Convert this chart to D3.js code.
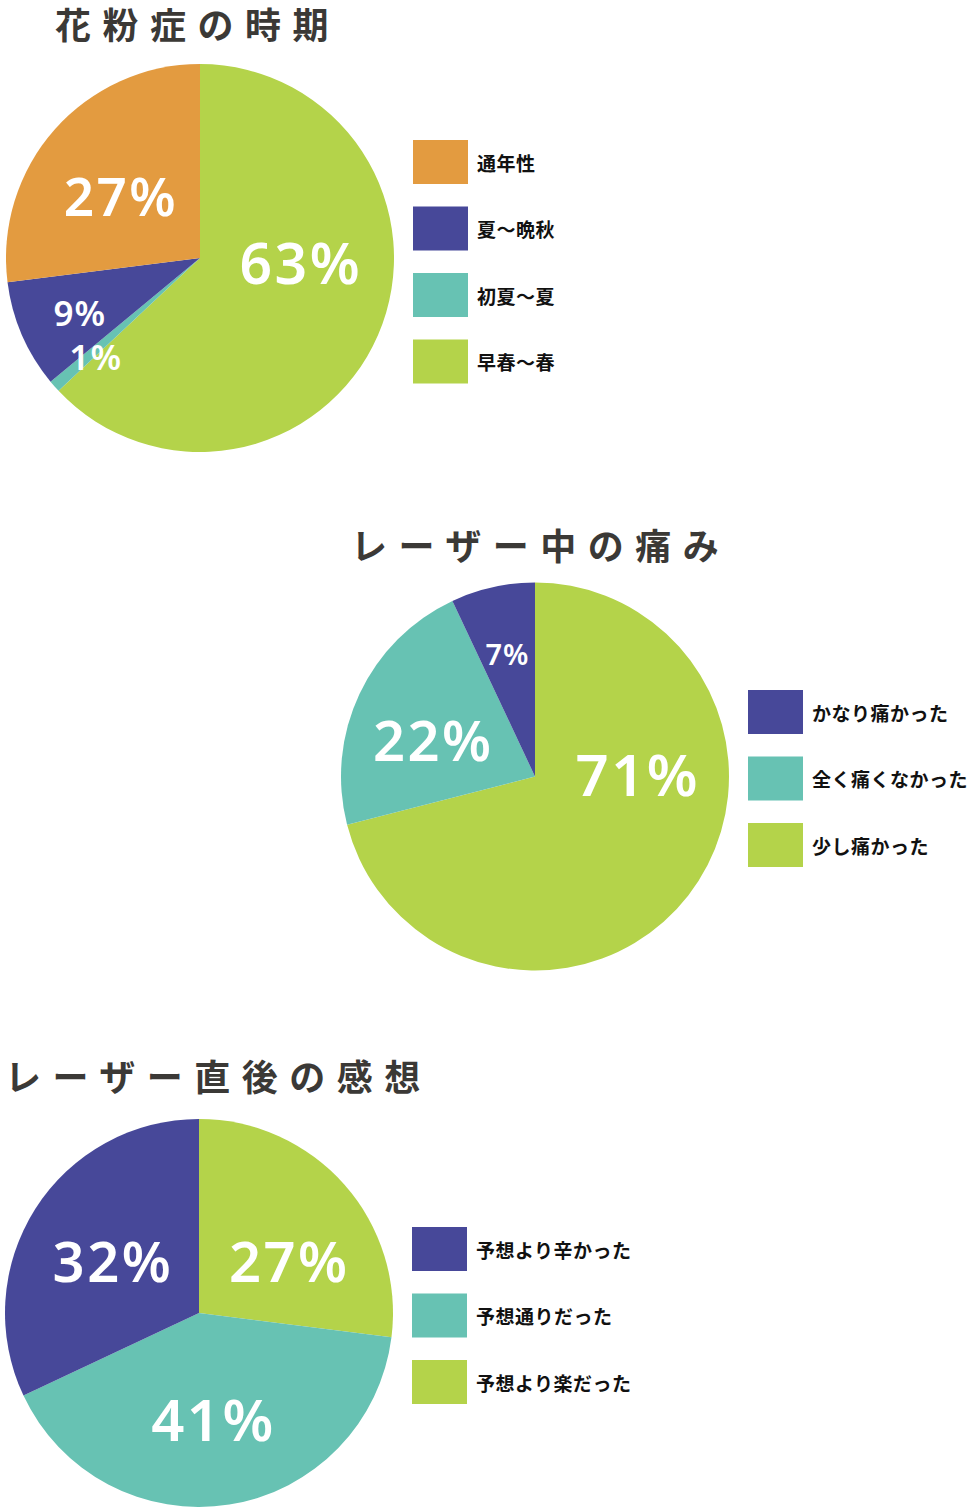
<!DOCTYPE html>
<html>
<head>
<meta charset="utf-8">
<script src="https://cdn.jsdelivr.net/npm/d3@7"></script>
<style>
  body { margin: 0; background: #fff; }
  svg { display: block; }
</style>
</head>
<body>
<script>
// data
var seasonTitle = "花粉症の時期";
var seasonLabels = ["早春〜春", "初夏〜夏", "夏〜晩秋", "通年性"];
var seasonValues = [63, 1, 9, 27];

var painTitle = "レーザー中の痛み";
var painLabels = ["少し痛かった", "全く痛くなかった", "かなり痛かった"];
var painValues = [71, 22, 7];

var afterTitle = "レーザー直後の感想";
var afterLabels = ["予想より楽だった", "予想通りだった", "予想より辛かった"];
var afterValues = [27, 41, 32];

// colours
var orange = "#E39B40", purple = "#474899", teal = "#67C2B3", green = "#B4D34A";

var width = 969, height = 1507;
var svg = d3.select("body").append("svg").attr("width", width).attr("height", height);

function drawPie(title, labels, values, colors, lay){
    var g = svg.append("g");

    // titel
    g.append("text")
        .attr("x", lay.titleX).attr("y", lay.titleY)
        .attr("dominant-baseline", "central")
        .style("font-family", "'Noto Sans CJK JP', sans-serif")
        .style("font-weight", 700)
        .style("font-size", "36px")
        .style("letter-spacing", "11.5px")
        .style("fill", "#3b3936")
        .text(title);

    var pie = d3.pie().sort(null).value(function(d){ return d; });
    var arcs = pie(values);
    var arc = d3.arc().innerRadius(0).outerRadius(lay.r);

    var pg = g.append("g").attr("transform", "translate(" + lay.cx + "," + lay.cy + ")");
    pg.selectAll("path").data(arcs).enter().append("path")
        .attr("d", arc)
        .attr("fill", function(d, i){ return colors[i]; });

    // procent-etiketter
    pg.selectAll("text").data(arcs).enter().append("text")
        .attr("transform", function(d, i){
            var a = (d.startAngle + d.endAngle) / 2 + lay.turn[i] * Math.PI / 180;
            var rr = lay.frac[i] * lay.r;
            var c = d3.arc().innerRadius(rr).outerRadius(rr).startAngle(a).endAngle(a).centroid();
            return "translate(" + c[0] + "," + c[1] + ")";
        })
        .attr("text-anchor", "middle")
        .attr("dominant-baseline", "central")
        .style("font-family", "'Noto Sans', sans-serif")
        .style("font-weight", 600)
        .style("font-size", function(d, i){ return lay.size[i] + "px"; })
        .style("letter-spacing", function(d, i){ return (lay.size[i] > 40 ? 2.5 : 1) + "px"; })
        .style("fill", "#fff")
        .text(function(d){ return d.value + "%"; });

    // legend (omvänd ordning)
    var order = d3.range(values.length).reverse();
    var lg = g.append("g").attr("transform", "translate(" + lay.legX + "," + lay.legY + ")");
    var items = lg.selectAll("g").data(order).enter().append("g")
        .attr("transform", function(d, k){ return "translate(0," + (k * 66.5) + ")"; });
    items.append("rect")
        .attr("width", 55).attr("height", 44)
        .attr("fill", function(d){ return colors[d]; });
    items.append("text")
        .attr("x", 64).attr("y", 22)
        .attr("dominant-baseline", "central")
        .style("font-family", "'Noto Sans CJK JP', sans-serif")
        .style("font-weight", 700)
        .style("font-size", "19px")
        .style("letter-spacing", "0.5px")
        .style("fill", "#111")
        .text(function(d){ return labels[d]; });
}

drawPie(seasonTitle, seasonLabels, seasonValues, [green, teal, purple, orange], {
    cx: 200, cy: 258, r: 194, titleX: 55, titleY: 23, legX: 413, legY: 140,
    frac: [0.52, 0.74, 0.68, 0.52], turn: [-21, -2, -1, -3], size: [57, 35, 35, 53]
});

drawPie(painTitle, painLabels, painValues, [green, teal, purple], {
    cx: 535, cy: 776.5, r: 194, titleX: 351, titleY: 544, legX: 748, legY: 690,
    frac: [0.53, 0.56, 0.65], turn: [-39.5, -4.8, 0], size: [58, 56, 29]
});

drawPie(afterTitle, afterLabels, afterValues, [green, teal, purple], {
    cx: 199, cy: 1313, r: 194, titleX: 5, titleY: 1075, legX: 412, legY: 1227,
    frac: [0.54, 0.55, 0.52], turn: [10.9, 1.2, -1], size: [56, 58, 56]
});
</script>
</body>
</html>
